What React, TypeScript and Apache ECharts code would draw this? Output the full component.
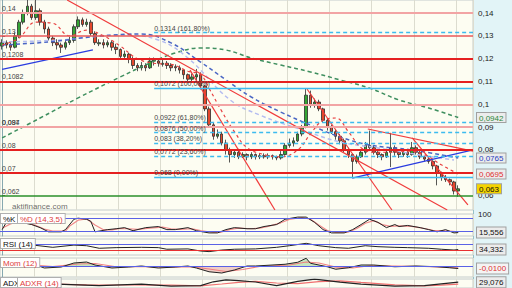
import React, { useEffect, useRef } from "react";
import * as echarts from "echarts";

// ---------------- DATA ----------------
const SLOT_COUNT = 112;
const slots: string[] = Array.from({ length: SLOT_COUNT }, (_, i) => `${i + 1}`);

// [open, close, low, high]
const ohlc: number[][] = [
  [0.1255, 0.127, 0.124, 0.1285], [0.127, 0.126, 0.1245, 0.128], [0.126, 0.125, 0.1235, 0.127], [0.125, 0.13, 0.1245, 0.1315], [0.13, 0.136, 0.129, 0.137],
  [0.136, 0.14, 0.135, 0.1415], [0.14, 0.143, 0.139, 0.146], [0.143, 0.138, 0.137, 0.144], [0.138, 0.141, 0.137, 0.146], [0.141, 0.136, 0.1345, 0.142],
  [0.136, 0.133, 0.131, 0.137], [0.133, 0.129, 0.128, 0.134], [0.129, 0.127, 0.1255, 0.13], [0.127, 0.126, 0.124, 0.1285], [0.126, 0.125, 0.1225, 0.127],
  [0.125, 0.127, 0.124, 0.128], [0.127, 0.128, 0.126, 0.1295], [0.128, 0.134, 0.127, 0.135], [0.134, 0.137, 0.133, 0.1385], [0.137, 0.135, 0.134, 0.138],
  [0.135, 0.136, 0.134, 0.1375], [0.136, 0.131, 0.13, 0.137], [0.131, 0.127, 0.126, 0.132], [0.1265, 0.127, 0.1255, 0.1285], [0.127, 0.126, 0.1245, 0.1285],
  [0.126, 0.127, 0.125, 0.128], [0.127, 0.125, 0.1235, 0.128], [0.125, 0.124, 0.122, 0.1265], [0.124, 0.121, 0.1195, 0.1245], [0.121, 0.122, 0.1195, 0.1235],
  [0.122, 0.12, 0.118, 0.1225], [0.12, 0.117, 0.1155, 0.121], [0.117, 0.116, 0.1145, 0.118], [0.116, 0.117, 0.1148, 0.1185], [0.117, 0.116, 0.1145, 0.118],
  [0.116, 0.119, 0.1155, 0.1205], [0.1195, 0.119, 0.117, 0.1205], [0.119, 0.118, 0.1165, 0.12], [0.1175, 0.118, 0.1165, 0.1195], [0.118, 0.117, 0.1155, 0.119],
  [0.117, 0.116, 0.1145, 0.118], [0.1165, 0.116, 0.1145, 0.1175], [0.116, 0.115, 0.1135, 0.117], [0.115, 0.113, 0.111, 0.1155], [0.113, 0.111, 0.1095, 0.1135],
  [0.111, 0.112, 0.11, 0.1135], [0.112, 0.113, 0.1105, 0.1155], [0.113, 0.108, 0.1065, 0.114], [0.108, 0.098, 0.097, 0.1085], [0.098, 0.091, 0.09, 0.099],
  [0.091, 0.086, 0.0845, 0.092], [0.086, 0.087, 0.085, 0.089], [0.087, 0.083, 0.082, 0.088], [0.083, 0.08, 0.078, 0.0845], [0.08, 0.078, 0.0745, 0.081],
  [0.078, 0.079, 0.0765, 0.08], [0.079, 0.077, 0.076, 0.0805], [0.077, 0.078, 0.0765, 0.079], [0.078, 0.077, 0.0755, 0.0785], [0.077, 0.078, 0.076, 0.079],
  [0.078, 0.077, 0.0758, 0.0785], [0.077, 0.0775, 0.076, 0.0785], [0.0775, 0.077, 0.0762, 0.0785], [0.077, 0.0775, 0.076, 0.0785], [0.0775, 0.077, 0.0758, 0.078],
  [0.077, 0.0765, 0.0755, 0.0775], [0.0765, 0.078, 0.0758, 0.0795], [0.078, 0.082, 0.0775, 0.083], [0.082, 0.083, 0.081, 0.085], [0.083, 0.084, 0.0815, 0.0855],
  [0.084, 0.087, 0.0835, 0.088], [0.087, 0.09, 0.086, 0.091], [0.09, 0.104, 0.0895, 0.1068], [0.104, 0.1, 0.0985, 0.106], [0.1, 0.101, 0.0985, 0.1025],
  [0.101, 0.098, 0.097, 0.102], [0.098, 0.093, 0.092, 0.0985], [0.093, 0.09, 0.0885, 0.094], [0.09, 0.088, 0.087, 0.091], [0.088, 0.086, 0.0845, 0.089],
  [0.086, 0.084, 0.0825, 0.087], [0.084, 0.08, 0.079, 0.085], [0.08, 0.078, 0.0765, 0.081], [0.078, 0.075, 0.068, 0.0785], [0.075, 0.077, 0.074, 0.078],
  [0.077, 0.079, 0.0765, 0.08], [0.079, 0.082, 0.078, 0.0835], [0.082, 0.081, 0.0795, 0.0885], [0.081, 0.079, 0.078, 0.082], [0.079, 0.078, 0.0765, 0.0795],
  [0.078, 0.077, 0.0755, 0.0785], [0.077, 0.079, 0.0765, 0.0805], [0.079, 0.081, 0.0725, 0.0875], [0.081, 0.079, 0.0775, 0.082], [0.079, 0.078, 0.0765, 0.0795],
  [0.078, 0.079, 0.077, 0.0805], [0.079, 0.078, 0.0765, 0.0795], [0.078, 0.081, 0.0775, 0.0835], [0.081, 0.079, 0.078, 0.082], [0.079, 0.077, 0.076, 0.0795],
  [0.077, 0.076, 0.075, 0.0775], [0.076, 0.075, 0.074, 0.0765], [0.075, 0.073, 0.0715, 0.0755], [0.073, 0.07, 0.0645, 0.0735], [0.07, 0.068, 0.0665, 0.0705],
  [0.068, 0.067, 0.066, 0.069], [0.067, 0.066, 0.0645, 0.0675], [0.066, 0.062, 0.0605, 0.0665], [0.062, 0.063, 0.0595, 0.0645],
];

// moving averages: [slot index, price]
const redMA = [[0, 0.126], [4, 0.129], [8, 0.136], [12, 0.1355], [16, 0.13], [20, 0.1325], [24, 0.13], [28, 0.1255], [32, 0.12], [36, 0.118], [40, 0.1175], [44, 0.1145], [47, 0.113], [49, 0.107], [52, 0.097], [55, 0.088], [58, 0.081], [62, 0.078], [66, 0.077], [70, 0.08], [73, 0.087], [76, 0.093], [79, 0.094], [82, 0.088], [85, 0.081], [88, 0.079], [92, 0.079], [96, 0.0795], [100, 0.078], [104, 0.0735], [108, 0.0695]];
const blueMA = [[0, 0.126], [11, 0.1273], [23, 0.1299], [33, 0.1308], [40, 0.1269], [47, 0.1185], [53, 0.1107], [59, 0.1032], [66, 0.0966], [73, 0.0909], [80, 0.0857], [87, 0.0822], [97, 0.08], [108, 0.0765]];
const lavenderMA = [[0, 0.1273], [14, 0.1282], [28, 0.1304], [37, 0.1282], [44, 0.1203], [54, 0.1019], [61, 0.0953], [71, 0.0888], [80, 0.0835], [89, 0.0809], [99, 0.0778], [107, 0.0756]];
const greenMA = [[0, 0.0853], [9, 0.094], [18, 0.1028], [28, 0.112], [35, 0.1181], [41, 0.1225], [47, 0.1247], [53, 0.1238], [59, 0.1203], [66, 0.1172], [73, 0.1142], [80, 0.1107], [87, 0.1071], [94, 0.1019], [101, 0.0984], [108, 0.0942]];

// drawn trend lines: two anchors [slot, price]
const redTrendLines = [
  [[15.4, 0.1457], [105.4, 0.0537]],
  [[44.5, 0.115], [64.6, 0.0537]],
  [[72.2, 0.1067], [92.3, 0.0537]],
  [[97.1, 0.0853], [110.3, 0.0559]],
  [[86.6, 0.0892], [111.5, 0.0795]],
];
const blueTrendLines = [
  [[0, 0.1153], [21.5, 0.1238]],
  [[82.9, 0.0677], [111.5, 0.08]],
];

// horizontal levels
const levelValues = [0.14, 0.13, 0.1208, 0.1082, 0.1, 0.094, 0.087, 0.08, 0.07, 0.062, 0.0545];
const levelLabels = ["0,14", "0,13", "0,1208", "0,1082", "", "0,094", "0,087", "0,08", "0,07", "0,062", "0,0545"];
const levelKinds = ["soft", "mid", "strong", "strong", "soft", "mid", "soft", "strong", "strong", "green", "green"];

// fibonacci
const fibStartSlot = 36;
const fibValues = [0.1314, 0.1072, 0.0922, 0.0876, 0.083, 0.0772, 0.068];
const fibPercents = ["161,80%", "100,00%", "61,80%", "50,00%", "38,20%", "23,60%", "0,00%"];

// price axis labels
const priceTicks = [0.06, 0.08, 0.09, 0.1, 0.11, 0.12, 0.13, 0.14];

// indicators
const stochK = [[0, 29], [1, 62], [3, 70], [5, 60], [7, 52], [9, 38], [11, 19], [14, 19], [15, 29], [17, 76], [18, 81], [20, 76], [21, 67], [22, 19], [25, 29], [27, 33], [29, 38], [31, 24], [34, 38], [37, 43], [39, 29], [41, 29], [44, 38], [46, 24], [49, 14], [51, 14], [53, 29], [55, 38], [58, 33], [60, 33], [62, 43], [65, 52], [67, 76], [70, 86], [72, 86], [74, 62], [76, 29], [78, 14], [81, 14], [83, 29], [85, 52], [87, 76], [89, 62], [91, 38], [93, 52], [94, 43], [96, 48], [99, 38], [101, 29], [103, 19], [105, 29], [107, 14], [108, 15.556]];
const stochD = [[0, 35], [2, 55], [4, 66], [6, 58], [8, 48], [10, 32], [12, 22], [15, 22], [16, 45], [18, 72], [20, 78], [22, 50], [24, 28], [26, 28], [28, 34], [30, 33], [32, 30], [35, 36], [38, 40], [40, 33], [42, 30], [45, 33], [47, 25], [50, 16], [52, 18], [54, 30], [56, 36], [59, 33], [61, 36], [63, 44], [66, 60], [68, 75], [71, 84], [73, 76], [75, 50], [77, 25], [79, 16], [82, 18], [84, 34], [86, 58], [88, 70], [90, 52], [92, 44], [94, 46], [97, 44], [100, 34], [102, 26], [104, 24], [106, 22], [108, 19]];
const rsi = [[0, 52], [4, 64], [8, 60], [12, 48], [17, 62], [20, 58], [23, 42], [27, 46], [33, 48], [37, 46], [39, 36], [44, 38], [47, 25], [49, 21], [52, 31], [55, 36], [60, 38], [65, 48], [68, 58], [72, 73], [75, 58], [79, 46], [82, 42], [86, 58], [89, 52], [93, 48], [96, 46], [101, 42], [104, 36], [107, 31], [108, 34.332]];
const mom = [[0, 0.002], [4, 0.01], [8, 0.004], [10, -0.008], [14, -0.004], [17, 0.012], [20, 0.016], [22, 0.004], [26, -0.008], [30, -0.004], [33, 0], [37, -0.008], [41, -0.004], [44, 0], [46, -0.008], [49, -0.023], [52, -0.028], [55, -0.016], [58, 0], [60, 0], [67, 0.007], [70, 0.015], [72, 0.031], [73, 0.011], [77, -0.003], [79, -0.013], [82, -0.007], [85, 0.004], [88, 0.004], [93, -0.003], [98, 0], [103, -0.003], [106, -0.007], [108, -0.01]];
const momSignal = [[0, 0.0], [6, 0.006], [12, -0.002], [18, 0.008], [22, 0.01], [27, -0.003], [34, -0.003], [40, -0.005], [45, -0.003], [49, -0.012], [53, -0.022], [57, -0.014], [61, -0.002], [68, 0.004], [72, 0.016], [75, 0.012], [79, -0.004], [83, -0.008], [87, 0.001], [93, 0.0], [100, -0.002], [105, -0.005], [108, -0.008]];
const adx = [[0, 25], [6, 22], [13, 19], [23, 12], [33, 19], [40, 9], [47, 12], [50, 31], [53, 41], [56, 37], [60, 30], [65, 12], [70, 33], [74, 44], [80, 29], [85, 19], [93, 9], [100, 12], [104, 21], [108, 29.076]];
const adxr = [[0, 22], [10, 21], [20, 16], [30, 15], [40, 14], [47, 11], [52, 20], [56, 28], [60, 33], [65, 25], [70, 22], [75, 32], [80, 36], [85, 28], [93, 16], [100, 11], [104, 14], [108, 19]];

// ---------------- STYLE ----------------
const FONT = '"Liberation Sans", Arial, sans-serif';
const PLOT_BG = "#fdfdf2";
const levelStyle: Record<string, { color: string; width: number }> = {
  soft: { color: "#f2a4a4", width: 2 },
  mid: { color: "#e85858", width: 1.5 },
  strong: { color: "#e52020", width: 2 },
  green: { color: "#2a8f2a", width: 1.5 },
};

const comma = (v: number, digits?: number) =>
  (digits === undefined ? String(v) : v.toFixed(digits)).replace(".", ",");
const last = (arr: number[][]) => arr[arr.length - 1][1];

const boxStyle = (color: string, bg: string) => ({
  color, backgroundColor: bg, borderColor: "#a0a0a0", borderWidth: 1,
  padding: [1, 2, 0, 2], fontSize: 8, lineHeight: 9, fontFamily: FONT,
});

function lastLabel(v: number, text: string, color: string, bg: string) {
  return {
    yAxis: v,
    lineStyle: { color: "rgba(0,0,0,0)", width: 0 },
    label: { show: true, position: "end", distance: 4, formatter: text, ...boxStyle(color, bg) },
  };
}

export default function App() {
  const ref = useRef<HTMLDivElement>(null);
  useEffect(() => {
    if (!ref.current) return;
    const chart = echarts.init(ref.current, null, { renderer: "svg" });

    const grids = [
      { top: 0, height: 210 },
      { top: 214, height: 22 },
      { top: 239, height: 16 },
      { top: 258, height: 19 },
      { top: 279, height: 12 },
    ].map((g) => ({
      left: 0, right: 39, ...g, show: true, backgroundColor: PLOT_BG,
      borderColor: "#c4cccc", borderWidth: 1, containLabel: false,
    }));

    const xAxis: any[] = [];
    grids.forEach((_, g) => {
      xAxis.push({
        type: "category", gridIndex: g, data: slots, boundaryGap: true,
        axisLine: { show: false }, axisTick: { show: false }, axisLabel: { show: false },
        splitLine: { show: true, interval: (i: number) => i % 10 === 8, lineStyle: { color: "#dcdccf", width: 1 } },
      });
      xAxis.push({ type: "value", gridIndex: g, min: -0.5, max: SLOT_COUNT - 0.5, show: false });
    });

    // last-value badges on the price axis
    const lastPrice = ohlc[ohlc.length - 1][1];
    const badges = [
      { value: last(greenMA), key: "g", style: boxStyle("#2a8a3a", "#ececec") },
      { value: last(blueMA), key: "b", style: boxStyle("#2a40c0", "#ececec") },
      { value: last(redMA), key: "r", style: boxStyle("#e03030", "#ececec") },
      { value: lastPrice, key: "y", style: boxStyle("#111", "#f4d400") },
    ];
    const rich: Record<string, any> = {};
    badges.forEach((b) => { rich[b.key] = b.style; });

    const yCommon = {
      position: "right", axisLine: { show: true, lineStyle: { color: "#86a8b0" } },
      splitLine: { show: false },
    };
    const PRICE_MIN = 0.0537, PRICE_MAX = 0.1457;
    const yAxis: any[] = [
      {
        ...yCommon, type: "value", gridIndex: 0, min: PRICE_MIN, max: PRICE_MAX,
        axisTick: { show: true, length: 3, customValues: priceTicks, lineStyle: { color: "#555" } },
        axisLabel: {
          customValues: priceTicks, fontSize: 8, lineHeight: 9, color: "#222", fontFamily: FONT, margin: 5,
          formatter: (v: number) => comma(Number(v.toFixed(4))),
        },
      },
      {
        ...yCommon, type: "value", gridIndex: 1, min: 0, max: 100,
        axisTick: { show: true, length: 3, customValues: [100], lineStyle: { color: "#555" } },
        axisLabel: { customValues: [100], fontSize: 8, lineHeight: 8, color: "#222", fontFamily: FONT, margin: 5 },
      },
      { ...yCommon, type: "value", gridIndex: 2, min: 0, max: 100, axisTick: { show: false }, axisLabel: { show: false } },
      { ...yCommon, type: "value", gridIndex: 3, min: -0.044, max: 0.032, axisTick: { show: false }, axisLabel: { show: false } },
      { ...yCommon, type: "value", gridIndex: 4, min: 0, max: 45, axisTick: { show: false }, axisLabel: { show: false } },
      {
        type: "value", gridIndex: 0, position: "right", min: PRICE_MIN, max: PRICE_MAX,
        axisLine: { show: false }, axisTick: { show: false }, splitLine: { show: false },
        axisLabel: {
          customValues: badges.map((b) => b.value), margin: 4, rich,
          formatter: (v: number) => {
            const b = badges.reduce((a, c) => (Math.abs(c.value - v) < Math.abs(a.value - v) ? c : a));
            return `{${b.key}|${comma(b.value)}}`;
          },
        },
      },
    ];

    const lineOpts = (g: number) => ({
      type: "line", xAxisIndex: 2 * g + 1, yAxisIndex: g, symbol: "none", silent: true, clip: true,
    });

    const levelMarks = levelValues.map((v, i) => ({
      yAxis: v,
      lineStyle: { ...levelStyle[levelKinds[i]], type: "solid" },
      label: {
        show: levelLabels[i] !== "", formatter: levelLabels[i], position: "insideStartTop",
        distance: [2, 1], fontSize: 7, color: "#444", fontFamily: FONT,
      },
    }));
    const fibMarks = fibValues.map((v, i) => {
      const solid = fibPercents[i] === "100,00%" || fibPercents[i] === "0,00%";
      return [
        {
          coord: [fibStartSlot, v],
          lineStyle: { color: "#3dbbef", width: 1.3, type: solid ? "solid" : [4, 3] },
          label: {
            show: true, formatter: `${comma(v)} (${fibPercents[i]})`, position: "insideStartTop",
            distance: [0, 1], fontSize: 7, color: "#444", fontFamily: FONT,
          },
        },
        { coord: [SLOT_COUNT - 0.5, v] },
      ];
    });

    const series: any[] = [
      {
        ...lineOpts(0), name: "levels", data: [],
        markLine: { silent: true, symbol: ["none", "none"], animation: false, data: levelMarks },
      },
      {
        ...lineOpts(0), name: "fib", data: [],
        markLine: { silent: true, symbol: ["none", "none"], animation: false, data: fibMarks },
      },
      {
        type: "candlestick", name: "price", xAxisIndex: 0, yAxisIndex: 0, data: ohlc, barWidth: 3,
        itemStyle: { color: "#34a534", color0: "#e5482c", borderColor: "#2c2c2c", borderColor0: "#2c2c2c", borderWidth: 0.8 },
      },
      {
        ...lineOpts(0), name: "MA long", data: greenMA, smooth: 0.4,
        lineStyle: { color: "#3f8f5f", width: 1.5, type: [4, 3] },
      },
      {
        ...lineOpts(0), name: "MA mid2", data: lavenderMA, smooth: 0.4,
        lineStyle: { color: "#b4bcf0", width: 1.5, type: [4, 3] },
      },
      {
        ...lineOpts(0), name: "MA mid", data: blueMA, smooth: 0.4,
        lineStyle: { color: "#4a66c4", width: 1.5, type: [4, 3] },
      },
      {
        ...lineOpts(0), name: "MA short", data: redMA, smooth: 0.4,
        lineStyle: { color: "#e84040", width: 1.2, type: [3, 3] },
      },
      ...redTrendLines.map((pts) => ({ ...lineOpts(0), data: pts, lineStyle: { color: "#f03c3c", width: 1.2 } })),
      ...blueTrendLines.map((pts) => ({ ...lineOpts(0), data: pts, lineStyle: { color: "#2a3ce0", width: 1.3 } })),

      // stochastic
      { ...lineOpts(1), name: "%D", data: stochD, lineStyle: { color: "#f08a8a", width: 1.2 } },
      {
        ...lineOpts(1), name: "%K", data: stochK, lineStyle: { color: "#222", width: 1 },
        markLine: {
          silent: true, symbol: ["none", "none"], animation: false,
          data: [
            { yAxis: 80, lineStyle: { color: "#5a62e6", width: 1, type: "solid" }, label: { show: false } },
            { yAxis: 20, lineStyle: { color: "#5a62e6", width: 1, type: "solid" }, label: { show: false } },
            lastLabel(last(stochK), comma(last(stochK)), "#111", "#ececec"),
          ],
        },
      },
      // RSI
      {
        ...lineOpts(2), name: "RSI", data: rsi, lineStyle: { color: "#222", width: 1 },
        markLine: {
          silent: true, symbol: ["none", "none"], animation: false,
          data: [
            { yAxis: 70, lineStyle: { color: "#5a62e6", width: 1, type: "solid" }, label: { show: false } },
            { yAxis: 30, lineStyle: { color: "#e83030", width: 1, type: "solid" }, label: { show: false } },
            lastLabel(last(rsi), comma(last(rsi)), "#111", "#ececec"),
          ],
        },
      },
      // Momentum
      { ...lineOpts(3), name: "Mom signal", data: momSignal, lineStyle: { color: "#f08080", width: 1.1 } },
      {
        ...lineOpts(3), name: "Mom", data: mom, lineStyle: { color: "#222", width: 1 },
        areaStyle: {
          color: new echarts.graphic.LinearGradient(0, 258, 0, 277, [
            { offset: 0, color: "rgba(110,190,110,0.55)" },
            { offset: 0.42, color: "rgba(110,190,110,0.55)" },
            { offset: 0.42, color: "rgba(215,120,120,0.5)" },
            { offset: 1, color: "rgba(215,120,120,0.5)" },
          ], true),
        },
        markLine: {
          silent: true, symbol: ["none", "none"], animation: false,
          data: [
            { yAxis: 0, lineStyle: { color: "#5a62e6", width: 1, type: "solid" }, label: { show: false } },
            lastLabel(last(mom), comma(last(mom), 4), "#e03030", "#f4f4f4"),
          ],
        },
      },
      // ADX
      { ...lineOpts(4), name: "ADXR", data: adxr, lineStyle: { color: "#f07070", width: 1.2 } },
      {
        ...lineOpts(4), name: "ADX", data: adx, lineStyle: { color: "#222", width: 1.2 },
        markLine: {
          silent: true, symbol: ["none", "none"], animation: false,
          data: [lastLabel(last(adx), comma(last(adx)), "#111", "#ececec")],
        },
      },
    ];

    const tag = (x: number, y: number, text: string, fill: string) => ({
      type: "text", x, y, z: 50, silent: true,
      style: {
        text, fill, font: `8px ${FONT}`, backgroundColor: "#ffffff",
        borderColor: "#b0b0b0", borderWidth: 1, padding: [1, 2, 0, 2],
      },
    });

    chart.setOption({
      animation: false,
      backgroundColor: PLOT_BG,
      grid: grids,
      xAxis,
      yAxis,
      series,
      graphic: [
        {
          type: "rect", z: -1, silent: true,
          shape: { x: 473.5, y: -1, width: 40, height: 290 },
          style: { fill: "#e2f4f7", stroke: "#96c0c8", lineWidth: 1 },
        },
        {
          type: "text", x: 12, y: 202, z: 40, silent: true,
          style: { text: "aktifinance.com", fill: "rgba(80,80,80,0.85)", font: `8px ${FONT}` },
        },
        tag(1, 214, "%K", "#111"),
        tag(18, 214, "%D (14,3,5)", "#e04040"),
        tag(1, 239, "RSI (14)", "#111"),
        tag(1, 258, "Mom (12)", "#e04040"),
        tag(1, 278, "ADX", "#111"),
        tag(18, 278, "ADXR (14)", "#e04040"),
      ],
    });
    return () => chart.dispose();
  }, []);
  return <div ref={ref} style={{ position: "fixed", left: 0, top: 0, width: 512, height: 288 }} />;
}
